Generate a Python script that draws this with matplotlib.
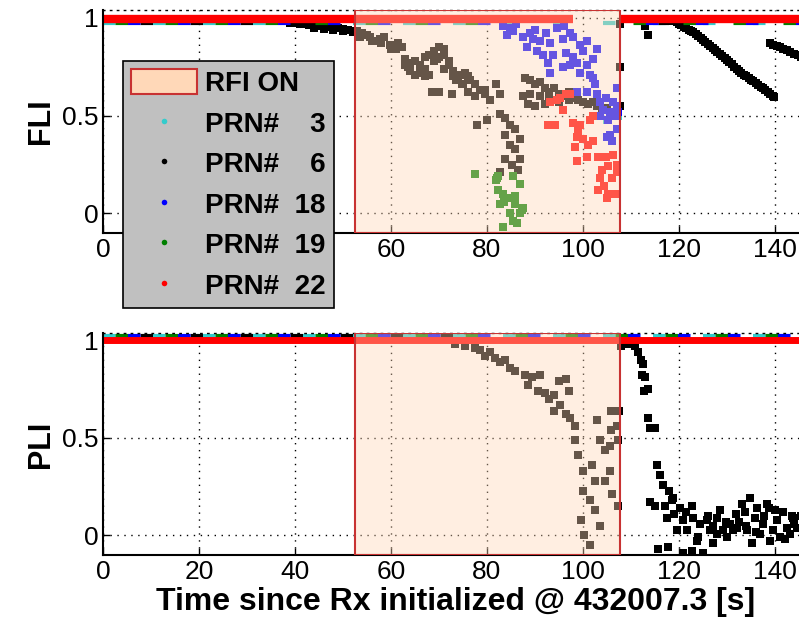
import matplotlib
matplotlib.use('Agg')
import matplotlib.pyplot as plt
from matplotlib.patches import Patch
from matplotlib.lines import Line2D

plt.rcParams['font.family'] = ['Liberation Sans', 'DejaVu Sans']

# RFI interval [s]
rfi_start, rfi_end = 52.5, 107.7

prn_labels = ['PRN#    3', 'PRN#    6', 'PRN#  18', 'PRN#  19', 'PRN#  22']
prn_colors = ['#33cccc', 'k', '#0000ff', '#008000', '#ff0000']

# time spans where the indicator sits at ~1 (start, end)
fli_band_3 = [(0, 147)]
fli_band_6 = [(0, 39), (108, 118)]
fli_band_18 = [(0, 83), (108, 147)]
fli_band_19 = [(0, 84), (108, 147)]
fli_band_22 = [(0, 98), (108, 147)]

pli_band_3 = [(0, 147)]
pli_band_6 = [(0, 73)]
pli_band_18 = [(0, 147)]
pli_band_19 = [(0, 147)]
pli_band_22 = [(0, 147)]

# FLI samples off the band
fli3_t = [105, 106.5, 107.3]
fli3_y = [0.48, 0.52, 0.50]

fli6_t = [39, 40, 41, 42, 43, 44, 45, 46, 47, 48, 49, 50, 51, 52, 53, 44, 46, 48, 50, 52,
          53.5, 55.6, 57.7, 59.8, 60.8, 62.3, 54, 56, 58, 61, 55, 57, 58.5, 60, 61.5,
          62.9, 64, 65, 66, 67, 68, 69, 70, 71, 72, 71, 65, 67, 68, 63.5, 66.5, 69.5,
          63, 64, 66, 67, 69, 70, 71, 72, 73, 74, 75, 76,
          68.5, 70,
          73, 74.4, 75.4, 76.5, 74.8, 77.5, 78.5, 79.6, 80.6, 76, 72.7, 77.5, 73.5,
          78, 80, 81.9, 82.7, 80.6, 79.5,
          82.7, 83.8, 84.8, 85.8, 83.8, 84.8, 86.9, 85.8, 83.8, 85.2, 86.9, 86.5, 82.7,
          88, 89, 90, 91, 92, 93, 94, 95, 96, 97, 98, 99, 100, 101, 102, 103, 104, 105, 106, 107,
          89, 91, 93, 95, 97, 88.5, 90, 87.5, 92,
          107.8, 107.8, 107.8, 113, 113.5,
          117, 117.5, 118, 118.5, 119, 119.5, 120, 120.5, 121, 121.5, 122, 122.5, 123, 123.5,
          124, 124.5, 125, 125.5, 126, 126.5, 127, 127.5, 128, 128.5, 129, 129.5, 130, 130.5,
          131, 131.5, 132, 132.5, 133, 133.5, 134, 134.5, 135, 135.5, 136, 136.5, 137, 137.5,
          138, 138.5, 139, 139.5, 139.8,
          139, 139.7, 140.5, 141, 141.7, 142.5, 143.2, 144, 144.8, 145.5]
fli6_y = [0.975, 0.975, 0.97, 0.97, 0.965, 0.96, 0.96, 0.955, 0.955, 0.95, 0.95, 0.945, 0.94, 0.935, 0.93,
          0.95, 0.945, 0.94, 0.935, 0.925,
          0.90, 0.90, 0.89, 0.86, 0.85, 0.85, 0.92, 0.88, 0.87, 0.84, 0.91, 0.88, 0.90, 0.84, 0.87,
          0.76, 0.73, 0.78, 0.76, 0.80, 0.81, 0.83, 0.85, 0.81, 0.78, 0.74, 0.71, 0.70, 0.71, 0.75, 0.73, 0.79,
          0.79, 0.77, 0.72, 0.74, 0.78, 0.80, 0.84, 0.76, 0.70, 0.68, 0.66, 0.70,
          0.62, 0.62,
          0.73, 0.71, 0.72, 0.68, 0.66, 0.66, 0.63, 0.61, 0.58, 0.62, 0.61, 0.60, 0.68,
          0.45, 0.48, 0.66, 0.61, 0.58, 0.63,
          0.51, 0.49, 0.45, 0.43, 0.40, 0.35, 0.38, 0.33, 0.28, 0.25, 0.28, 0.22, 0.21,
          0.69, 0.68, 0.66, 0.67, 0.64, 0.62, 0.64, 0.61, 0.60, 0.58, 0.59, 0.58, 0.57, 0.56, 0.57, 0.55,
          0.53, 0.54, 0.52, 0.55,
          0.61, 0.60, 0.58, 0.57, 0.62, 0.56, 0.55, 0.60, 0.56,
          0.97, 0.75, 0.55, 0.96, 0.91,
          0.995, 0.99, 0.99, 0.985, 0.985, 0.98, 0.97, 0.965, 0.955, 0.95, 0.94, 0.935, 0.925, 0.915,
          0.905, 0.895, 0.885, 0.875, 0.865, 0.855, 0.845, 0.835, 0.825, 0.815, 0.805, 0.795, 0.785, 0.775,
          0.765, 0.75, 0.74, 0.73, 0.72, 0.71, 0.70, 0.69, 0.68, 0.675, 0.665, 0.655, 0.645, 0.64,
          0.63, 0.62, 0.61, 0.60, 0.595,
          0.87, 0.86, 0.855, 0.85, 0.84, 0.835, 0.825, 0.815, 0.81, 0.80]

fli18_t = [83.4, 84.8, 84.1, 85.4, 87.5, 88.9, 89.6, 88.3, 91, 92.4, 93.1, 94.5, 95.8, 97.3,
           90.4, 91.7, 93.8, 96.5, 97.9, 99.4, 100.8, 100, 102.2, 92.8, 95.8, 97.3, 98.7,
           100.8, 99.4, 101.5, 102.2, 102.5, 93.1, 98.7, 100.8, 102.9, 107.1, 103.5, 104.9,
           106.2, 104.2, 105.6, 106.7, 107.1, 103.5, 105.2, 107.4, 105, 105.6, 107.1, 106,
           86, 90, 96, 98, 103]
fli18_y = [0.96, 0.95, 0.91, 0.93, 0.90, 0.92, 0.89, 0.85, 0.88, 0.92, 0.87, 0.95, 0.89, 0.92,
           0.83, 0.81, 0.81, 0.82, 0.80, 0.86, 0.88, 0.83, 0.79, 0.77, 0.75, 0.76, 0.77,
           0.76, 0.72, 0.71, 0.69, 0.66, 0.72, 0.62, 0.62, 0.61, 0.64, 0.57, 0.59,
           0.57, 0.53, 0.52, 0.50, 0.55, 0.50, 0.48, 0.52, 0.39, 0.40, 0.43, 0.37,
           0.97, 0.94, 0.96, 0.90, 0.84]

fli19_t = [77.5, 82, 82.3, 85.4, 86.9, 82.3, 83.4, 84.1, 85.8, 82.7, 83.5, 85.8, 87.5,
           84.8, 86.9, 85.4, 86.2, 83.4, 87.3, 81.9]
fli19_y = [0.20, 0.18, 0.19, 0.19, 0.15, 0.12, 0.10, 0.08, 0.09, 0.05, 0.06, 0.05, 0.03,
           0.00, 0.00, -0.04, -0.05, -0.07, 0.02, 0.17]

fli22_t = [93.1, 94.5, 95.2, 96.5, 97.3, 95.8, 92.7, 94.1, 98, 99.4, 101.5, 102.2, 98.7, 100,
           98.3, 102, 100.8, 98.7, 103.2, 104.9, 106.2, 107.1, 105.2, 103.5, 104.3, 106,
           107.1, 103.2, 105.2, 106.6, 105, 104, 99, 101]
fli22_y = [0.57, 0.58, 0.59, 0.61, 0.61, 0.53, 0.45, 0.45, 0.46, 0.45, 0.48, 0.50, 0.39, 0.38,
           0.34, 0.37, 0.29, 0.27, 0.29, 0.29, 0.30, 0.25, 0.24, 0.18, 0.14, 0.18,
           0.21, 0.12, 0.10, 0.10, 0.08, 0.22, 0.42, 0.35]

# PLI samples off the band (PRN 6 only)
pli6_t = [73.3, 75.4, 77.5, 78.5, 79.6, 80.6, 81.7, 82.7, 83.8, 84.8, 85.8, 87.9, 89.4, 91,
          88.5, 90.6, 92, 93, 94, 95.2, 94, 96.5, 97.3, 95, 96.5, 97, 98.3,
          98.3, 99, 100, 100, 101.5, 99.6, 100.2, 101.5, 103.5, 104.6, 105.6, 104.6, 105.6,
          106, 107.3, 102.5, 103.5, 105.8, 107, 107.3, 103, 105.8, 101.9, 102.5,
          108, 109.4, 110.8, 111.5, 112, 112.5, 112.3, 113, 112.7, 113.5, 107.6, 113.5, 114,
          115, 115.4, 116, 116.7, 118, 118.5, 114, 115, 117, 117.7,
          115.6, 118.8, 117.5, 119.5, 120.2, 120.8, 121.6, 122.7, 123, 123.7, 124.4, 125.8,
          126.5, 127.1, 127.9, 128.5, 129.2, 130, 130.6, 131.3, 132, 133.1, 133.8, 134.2,
          134.8, 135.2, 135.8, 136.2, 136.9, 137.5, 138.3, 139, 139.6, 140.4, 141, 141.7,
          142.5, 143.1, 143.8, 144.6, 120.8, 122.7, 125, 145.5, 146, 119, 121.5, 124, 126,
          128, 129.8, 131.8, 134, 136, 137.8, 140, 142, 144, 146.5, 127, 132.5, 138.8, 143.5]
pli6_y = [0.98, 0.97, 0.96, 0.95, 0.92, 0.94, 0.91, 0.89, 0.90, 0.86, 0.84, 0.82, 0.81, 0.82,
          0.77, 0.74, 0.73, 0.70, 0.72, 0.67, 0.64, 0.62, 0.60, 0.79, 0.80, 0.74, 0.56,
          0.49, 0.41, 0.33, 0.23, 0.18, 0.08, 0.00, -0.05, 0.49, 0.44, 0.46, 0.28, 0.33,
          0.21, 0.15, 0.13, 0.05, 0.54, 0.56, 0.49, 0.59, 0.64, 0.36, 0.28,
          0.97, 0.98, 0.97, 0.94, 0.90, 0.88, 0.82, 0.81, 0.74, 0.75, 0.64, 0.60, 0.55,
          0.55, 0.36, 0.31, 0.26, 0.23, 0.18, 0.17, 0.15, 0.15, -0.06,
          -0.07, 0.19, 0.09, 0.03, 0.14, 0.08, 0.03, 0.15, 0.09, -0.03, 0.06, 0.08,
          0.03, -0.04, 0.09, 0.13, 0.03, -0.01, 0.06, 0.03, 0.04, 0.16, 0.12, 0.03,
          0.19, -0.04, 0.09, 0.14, 0.01, 0.06, 0.16, -0.03, 0.03, 0.08, -0.01, 0.12,
          0.04, 0.01, 0.09, 0.04, -0.09, -0.08, -0.09, 0.10, 0.00, 0.11, 0.12, -0.01, 0.10,
          0.01, 0.07, 0.11, 0.05, 0.02, 0.10, 0.13, -0.02, 0.06, 0.03, 0.05, 0.07, 0.14, 0.10]

fli_bands = [fli_band_3, fli_band_6, fli_band_18, fli_band_19, fli_band_22]
pli_bands = [pli_band_3, pli_band_6, pli_band_18, pli_band_19, pli_band_22]
fli_pts = [(fli3_t, fli3_y), (fli6_t, fli6_y), (fli18_t, fli18_y), (fli19_t, fli19_y), (fli22_t, fli22_y)]
pli_pts = [([], []), (pli6_t, pli6_y), ([], []), ([], []), ([], [])]

fig = plt.figure(figsize=(7.99, 6.35), dpi=100)
ax1 = fig.add_axes([0.1289, 0.6331, 0.8830, 0.3512])
ax2 = fig.add_axes([0.1289, 0.1260, 0.8830, 0.3496])

shade_face = (1.0, 0.84, 0.71)
shade_edge = '#c83232'


def draw_panel(ax, bands, pts, band_y, other_y, red_lw, ylim, ylabel):
    for i, color in enumerate(prn_colors):
        is_red = i == 4
        for s, e in bands[i]:
            if is_red:
                ax.hlines(band_y, s, e, colors=color, lw=red_lw, zorder=2)
            else:
                ax.hlines(other_y, s, e, colors=color, lw=3, zorder=2,
                          linestyles=[(i * 3, (3, 9))])
        t, y = pts[i]
        if t:
            ax.plot(t, y, 's', color=color, ms=5.5, mew=0, zorder=2)
    ax.axvspan(rfi_start, rfi_end, facecolor=shade_face, alpha=0.4, zorder=3, lw=0)
    ax.axvspan(rfi_start, rfi_end, facecolor='none', edgecolor=shade_edge, lw=1.5, zorder=3)
    ax.set_xlim(0, 147)
    ax.set_ylim(*ylim)
    ax.set_xticks(range(0, 141, 20))
    ax.set_yticks([0, 0.5, 1])
    ax.set_yticklabels(['0', '0.5', '1'])
    ax.grid(True, color='k', linestyle=(0, (1, 4)), lw=1)
    ax.tick_params(direction='in', length=5, labelsize=19, width=1)
    ax.spines['right'].set_visible(False)
    ax.spines['top'].set_linestyle((0, (1, 4)))
    ax.spines['top'].set_linewidth(1)
    ax.spines['bottom'].set_linewidth(1.5)
    ax.spines['left'].set_linewidth(1.5)
    ax.set_ylabel(ylabel, fontsize=22, fontweight='bold')


draw_panel(ax1, fli_bands, fli_pts, 0.995, 0.975, 6, (-0.1, 1.04), 'FLI')
draw_panel(ax2, pli_bands, pli_pts, 1.0, 1.02, 5, (-0.1, 1.037), 'PLI')
ax2.set_xlabel('Time since Rx initialized @ 432007.3 [s]', fontsize=23, fontweight='bold',
               labelpad=2)

handles = [Patch(facecolor='#ffd8b8', edgecolor=shade_edge, lw=1.5, label='RFI ON')]
for lab, c in zip(prn_labels, prn_colors):
    handles.append(Line2D([], [], ls='none', marker='o', ms=4, color=c, mew=0, label=lab))
leg = ax1.legend(handles=handles, loc='upper left', bbox_to_anchor=(123 / 799, 1 - 61 / 635),
                 bbox_transform=fig.transFigure, prop={'weight': 'bold', 'size': 20},
                 fancybox=False, framealpha=1, facecolor='#c0c0c0', edgecolor='k',
                 handlelength=2.35, handleheight=1.0, handletextpad=0.3, labelspacing=0.45,
                 borderpad=0.3, borderaxespad=0)
leg.get_frame().set_linewidth(1.2)
leg.set_zorder(10)

fig.savefig('out.png', dpi=100)
